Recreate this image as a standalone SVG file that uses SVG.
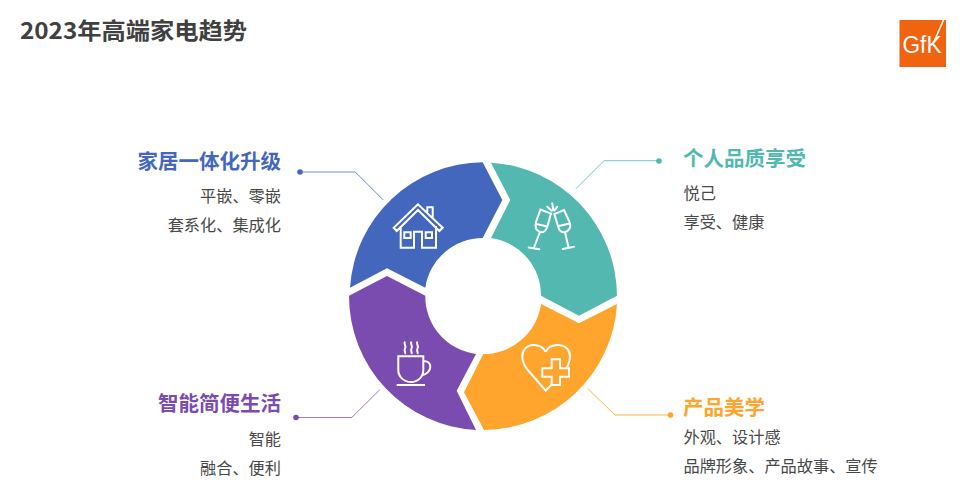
<svg xmlns="http://www.w3.org/2000/svg" width="964" height="500" viewBox="0 0 964 500">
<style>
text{font-family:"Noto Sans CJK SC","Noto Sans",sans-serif}
.title{font-size:22.5px;font-weight:700;fill:#404040}
.h{font-size:20.5px;font-weight:700}
.b{font-size:16.2px;fill:#484848}
.e{text-anchor:end}
.ic{fill:none;stroke:#fff;stroke-width:2;stroke-linejoin:miter}
.cn{fill:none;stroke-width:1}
</style>
<rect width="964" height="500" fill="#fff"/>
<text class="title" x="20" y="39" textLength="227" lengthAdjust="spacingAndGlyphs">2023年高端家电趋势</text>
<g id="logo">
<rect x="899.5" y="20" width="46.5" height="47" fill="#F0630F"/>
<text x="902.5" y="53" font-size="23" textLength="39" lengthAdjust="spacingAndGlyphs" fill="#fff" style="font-family:'Liberation Sans',sans-serif">GfK</text>
<path d="M933 44L943.500 20" stroke="#fff" stroke-width="1.6" fill="none"/>
</g>
<g id="connectors">
<path class="cn" stroke="#4467BE" stroke-opacity=".75" d="M300 172H355.300L383.300 200"/>
<circle cx="300" cy="172" r="2.800" fill="#4467BE"/>
<path class="cn" stroke="#7B4CB0" stroke-opacity=".75" d="M296 417.500H351.700L379.500 390"/>
<circle cx="296" cy="417.500" r="2.800" fill="#7B4CB0"/>
<path class="cn" stroke="#53B8B0" stroke-opacity=".8" d="M576 188.700L604 160.700H659"/>
<circle cx="659" cy="161" r="2.800" fill="#53B8B0"/>
<path class="cn" stroke="#FFA42C" stroke-opacity=".85" d="M587.500 388.300L615 415H670.500"/>
<circle cx="670.500" cy="415" r="2.800" fill="#FFA42C"/>
</g>
<g id="node-home">
<path fill="#4467BE" d="M425.300 287.700L387 268.300L350 287.700A134 134 0 0 1 482.700 162.300L502.300 200L482.700 238A58 58 0 0 0 425.300 287.700Z"/>
<path class="ic" d="M418 204.300L393.700 227.700L396.700 231L418 210L439.300 231L442.700 227.700ZM427.300 213V207.300H432.700V218M400.700 226V247.700H414V231.700H422V247.700H436V226M404.300 232.300H410.700V238H404.300ZM425.700 232.300H432V238H425.700Z"/>
<text class="h e" x="281" y="169" fill="#4467BE">家居一体化升级</text>
<text class="b e" x="281" y="201.500">平嵌、零嵌</text>
<text class="b e" x="281" y="230.500">套系化、集成化</text>
</g>
<g id="node-enjoy">
<path fill="#53B8B0" d="M491 162.700A134 134 0 0 1 617 295.700L579 315.700L541 295.700A58 58 0 0 0 491 238L510.300 200Z"/>
<path class="ic" stroke-linecap="round" d="M540.500 209.500L536 222C534.500 228 537 231 540 232C543.500 233 546 231 547.500 226L551 213.500ZM536.500 224L547.300 226.500M540 232L534 247.500M528.700 247.500L539.300 249.300M554.300 214L558 226C559 231 562 233 565 232C569 231 571 228 570 223L564 210ZM559 226L569.500 223.500M565 232L568.500 247.500M562.700 249L574 246.700M552.300 203.300L553.300 210M547.300 206.700L551.700 210.700M557.300 206.700L554.300 210.700"/>
<text class="h" x="683" y="166" fill="#53B8B0">个人品质享受</text>
<text class="b" x="683.500" y="198.500">悦己</text>
<text class="b" x="683.500" y="227.500">享受、健康</text>
</g>
<g id="node-beauty">
<path fill="#FFA42C" d="M617 304A134 134 0 0 1 484 430L464 392.300L483.300 354A58 58 0 0 0 541 304L579 323.300Z"/>
<path class="ic" d="M545.700 351.700C543 347 538 345 533.500 345C527 345 522.300 350 522.300 356.500C522.300 361 524 365 527 369L545.700 390.700L551.700 384.500M545.700 351.700C548 347 553 345 558 345C565 345 570 350 570 356C570 360 568.500 364.500 566.500 368.300M551.700 359.300H560V368.300H569V376.700H560V385H551.700V376.700H542.300V368.300H551.700Z"/>
<text class="h" x="683" y="415" fill="#FFA42C">产品美学</text>
<text class="b" x="683.500" y="442.500">外观、设计感</text>
<text class="b" x="683.500" y="471.500">品牌形象、产品故事、宣传</text>
</g>
<g id="node-smart">
<path fill="#7B4CB0" d="M476 430A134 134 0 0 1 349 295.700L387 276L425.300 295.700A58 58 0 0 0 476 354L456.700 390.700Z"/>
<path class="ic" d="M398.300 356.300H423.300V370C423.300 377 418 382 411 382C404 382 398.300 377 398.300 370ZM423.300 361.500C428 360.500 430.300 363.500 430.300 367C430.300 371 426.500 374.500 421.500 375.500M396.700 385H425M405 341.500C403 344 407 346 405 348.500C403.500 350.500 406 352 405 354M411.500 341.500C409.500 344 413.500 346 411.500 348.500C410 350.500 412.500 352 411.500 354M417.500 341.500C415.500 344 419.500 346 417.500 348.500C416 350.500 418.500 352 417.500 354"/>
<text class="h e" x="281" y="411" fill="#7B4CB0">智能简便生活</text>
<text class="b e" x="281" y="444.500">智能</text>
<text class="b e" x="281" y="473.500">融合、便利</text>
</g>
</svg>
